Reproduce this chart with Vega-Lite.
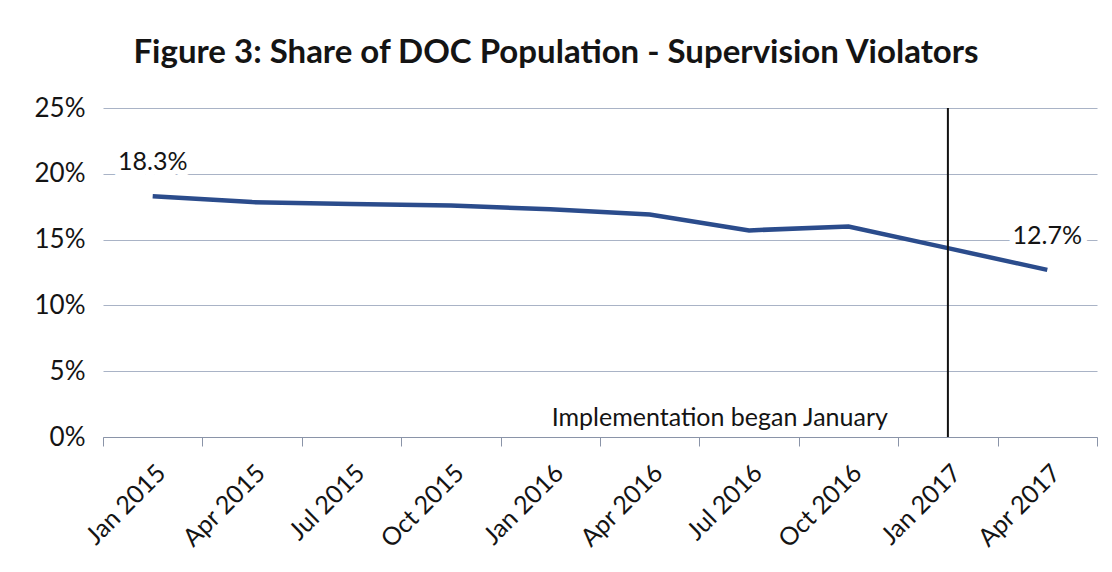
{
  "$schema": "https://vega.github.io/schema/vega-lite/v6.json",
  "width": 994,
  "height": 329,
  "autosize": "none",
  "padding": {"left": 103, "top": 108, "right": 15, "bottom": 135},
  "background": "white",
  "config": {"view": {"stroke": null}, "font": "Lato"},
  "title": {
    "text": "Figure 3: Share of DOC Population - Supervision Violators",
    "font": "Lato",
    "fontSize": 33,
    "fontWeight": "bold",
    "color": "#141414",
    "anchor": "middle",
    "dx": -44,
    "offset": 25
  },
  "data": {
    "values": [
      {"month": "Jan 2015", "share": 18.3, "label": "18.3%"},
      {"month": "Apr 2015", "share": 17.85, "label": ""},
      {"month": "Jul 2015", "share": 17.7, "label": ""},
      {"month": "Oct 2015", "share": 17.6, "label": ""},
      {"month": "Jan 2016", "share": 17.3, "label": ""},
      {"month": "Apr 2016", "share": 16.9, "label": ""},
      {"month": "Jul 2016", "share": 15.7, "label": ""},
      {"month": "Oct 2016", "share": 16.0, "label": ""},
      {"month": "Jan 2017", "share": 14.35, "label": ""},
      {"month": "Apr 2017", "share": 12.7, "label": "12.7%"}
    ]
  },
  "encoding": {
    "x": {
      "field": "month",
      "type": "ordinal",
      "sort": null,
      "scale": {"type": "band", "paddingInner": 0, "paddingOuter": 0},
      "axis": {
        "title": null,
        "labelAngle": -45,
        "labelFont": "Lato",
        "labelFontSize": 25,
        "labelColor": "#141414",
        "labelPadding": 14,
        "tickBand": "extent",
        "tickSize": 9,
        "tickColor": "#8a94a8",
        "domainColor": "#8a94a8",
        "grid": false
      }
    },
    "y": {
      "field": "share",
      "type": "quantitative",
      "scale": {"domain": [0, 25]},
      "axis": {
        "title": null,
        "values": [0, 5, 10, 15, 20, 25],
        "labelExpr": "datum.value + '%'",
        "labelFont": "Lato",
        "labelFontSize": 26,
        "labelColor": "#141414",
        "labelPadding": 18,
        "ticks": false,
        "domain": false,
        "gridColor": "#a9b3c6",
        "gridWidth": 1.2
      }
    }
  },
  "layer": [
    {
      "mark": {"type": "line", "color": "#2b4c8c", "strokeWidth": 4.5}
    },
    {
      "transform": [{"filter": "datum.month == 'Jan 2017'"}],
      "mark": {"type": "rule", "color": "#111111", "strokeWidth": 2},
      "encoding": {
        "y": {"datum": 0, "type": "quantitative"},
        "y2": {"datum": 25}
      }
    },
    {
      "transform": [{"filter": "datum.month == 'Jan 2017'"}],
      "mark": {"type": "text", "text": "Implementation began January", "align": "right", "baseline": "alphabetic", "dx": -60, "dy": -11, "fontSize": 25, "color": "#141414", "font": "Lato"},
      "encoding": {
        "y": {"datum": 0, "type": "quantitative"}
      }
    },
    {
      "mark": {"type": "text", "fontSize": 25, "dy": -34, "stroke": "white", "strokeWidth": 12, "fill": "white", "font": "Lato"},
      "encoding": {"text": {"field": "label"}}
    },
    {
      "mark": {"type": "text", "fontSize": 25, "dy": -34, "color": "#141414", "font": "Lato"},
      "encoding": {"text": {"field": "label"}}
    }
  ]
}
